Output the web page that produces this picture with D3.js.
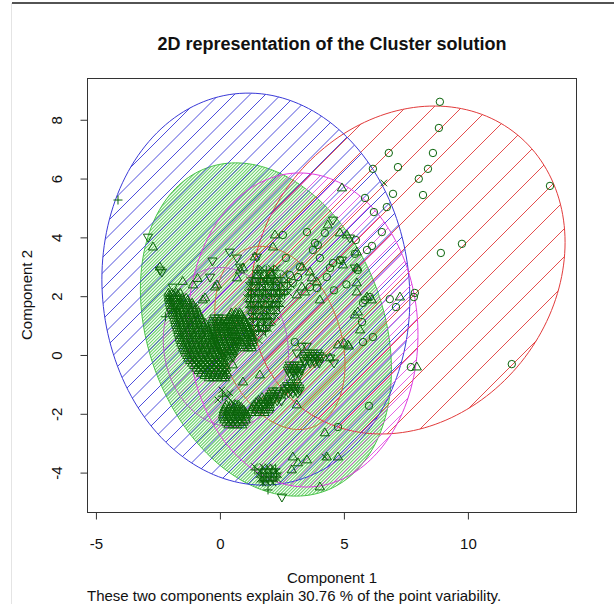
<!DOCTYPE html>
<html>
<head>
<meta charset="utf-8">
<script src="https://cdn.jsdelivr.net/npm/d3@7"></script>
<style>
  body { margin: 0; background: #fff; }
  svg { display: block; }
  text { font-family: "Liberation Sans", Arial, Helvetica, sans-serif; fill: #111; }
</style>
</head>
<body>
<svg id="chart" width="614" height="604"></svg>
<script>
// ---- texts and axes ----
const titleText = "2D representation of the Cluster solution";
const xLabel = "Component 1";
const yLabel = "Component 2";
const subText = "These two components explain 30.76 % of the point variability.";
const xTicks = [-5, 0, 5, 10];
const yTicks = [-4, -2, 0, 2, 4, 6, 8];
const xDomain = [-5.36, 14.4];
const yDomain = [-5.34, 9.42];

// ---- cluster ellipses: centre and shape matrix [s11, s12, s22] ----
const ellipseNames = ["green", "red", "blue", "magenta", "innerRed", "innerMagenta"];
const ellipseCenters = [[1.855, 0.867], [7.58, 2.89], [1.45, 2.24], [3.35, 0.85], [2.42, 0.58], [0.24, 0.27]];
const ellipseShapes = [[25.62, -6.90, 32.11], [40.18, 5.96, 31.10], [38.56, -2.07, 44.44],
                       [21.50, -0.73, 28.52], [6.89, -2.39, 9.71], [6.37, -0.60, 7.32]];

// ---- observations, by plotting symbol ----
const circlePts = [
  [8.87,8.61],[8.83,7.72],[6.81,6.87],[8.59,6.87],[7.18,6.39],[6.17,6.33],[8.39,6.33],[8.02,5.99],
  [13.31,5.75],[6.98,5.48],[8.19,5.44],[5.85,5.34],[6.73,5.03],[6.21,4.86],[6.53,4.18],[9.76,3.78],
  [8.91,3.47],[5.93,3.57],[6.13,3.71],[5.48,3.91],[5.44,3.44],[7.86,2.11],[7.82,1.97],[7.10,1.63],
  [6.85,1.90],[5.85,1.87],[6.05,1.97],[5.73,1.12],[5.77,0.44],[11.77,-0.31],[7.70,-0.41],[6.01,-1.73],
  [4.76,-2.45],[2.54,4.08],[3.51,4.18],[4.23,4.15],[3.83,3.81],[3.95,3.74],[3.75,3.57],[4.03,3.30],
  [4.56,3.13],[4.44,2.96],[3.23,2.99],[2.82,2.72],[3.15,2.65],[2.94,2.45],[3.63,2.31],[3.91,2.28],
  [4.31,2.65],[4.84,3.23],[5.56,2.89],[5.77,1.77],[6.17,0.61],[3.02,0.44],[2.66,3.30],[5.10,2.40],
  [4.60,2.20]
];
const trianglePts = [
  [4.92,5.68],[2.14,3.67],[1.41,3.33],[0.93,2.96],[1.90,2.62],[3.31,2.99],[3.63,2.82],[3.91,2.48],
  [3.71,2.62],[4.03,1.87],[4.96,3.06],[5.52,2.96],[5.52,2.14],[5.56,1.46],[5.93,1.97],[3.31,2.31],
  [3.43,2.14],[3.10,2.04],[4.35,4.42],[4.84,4.15],[5.12,4.08],[5.44,1.36],[7.26,1.97],[7.94,-0.41],
  [2.22,4.08],[0.81,2.89],[1.53,2.89],[-2.70,3.67],[-2.42,2.99],[-1.09,2.38],[-0.20,2.31],[-0.60,1.94],
  [0.69,2.62],[-0.12,2.38],[-0.69,1.87],[1.61,-0.68],[0.93,-0.92],[0.52,-0.34],[3.10,-1.70],[4.23,-2.65],
  [2.94,-3.47],[3.51,-3.57],[3.15,-3.67],[2.90,-3.91],[4.31,-3.47],[4.76,-3.47],[4.03,-4.49],[5.16,0.34],
  [4.76,0.34],[4.44,-0.10],[2.02,2.79],[5.52,3.50],[5.52,2.45],[6.13,1.87],[5.65,0.85],[-1.50,2.50],
  [-0.90,2.60],[5.00,0.40],[5.20,0.30]
];
const downTrianglePts = [
  [-2.90,4.01],[-2.42,2.89],[-2.34,2.82],[-1.90,2.31],[-0.40,2.65],[0.69,3.30],[0.81,2.99],[1.49,3.33],
  [4.56,4.59],[5.24,3.98],[4.92,3.23],[5.44,2.96],[3.10,0.07],[2.94,-0.58],[2.74,-1.12],[2.50,-4.83],
  [-0.30,3.20],[0.40,3.50]
];
const plusPts = [
  [-4.11,5.27],[-2.02,1.87],[1.41,-3.91],[1.73,-4.32],[1.94,-4.59],[-1.75,1.55],[0.10,-1.40],[-2.20,1.30]
];
const crossPts = [
  [6.61,5.85],[0.08,-1.19],[0.32,-1.43],[-0.08,-1.53],[0.40,-1.29],[0.20,-1.35],[0.50,-1.60],[-2.10,2.00],
  [-1.80,2.10],[-1.95,1.70],[-1.60,1.80],[-2.05,1.45],[4.23,-3.47],[1.40,-3.80]
];

// dense groups, written as rows: [y, [x, x, ...]]
const blobA = [
  [2.10,[-2.08,-1.92,-1.75,-1.60]],
  [2.02,[-2.05,-1.88,-1.70]],
  [1.93,[-2.06,-1.88,-1.70,-1.52,-1.36]],
  [1.85,[-2.02,-1.84,-1.66,-1.48,-1.30]],
  [1.76,[-2.02,-1.85,-1.66,-1.48,-1.30,-1.12]],
  [1.68,[-1.98,-1.80,-1.62,-1.44,-1.26,-1.08]],
  [1.59,[-1.97,-1.80,-1.62,-1.44,-1.26,-1.08,-0.95]],
  [1.51,[-1.92,-1.74,-1.56,-1.38,-1.20,-1.02]],
  [1.42,[-1.90,-1.72,-1.55,-1.37,-1.19,-1.02,-0.86]],
  [1.34,[-1.86,-1.68,-1.50,-1.32,-1.14,-0.96,-0.82]],
  [1.25,[-1.84,-1.66,-1.49,-1.31,-1.13,-0.96,-0.78]],
  [1.17,[-1.80,-1.62,-1.44,-1.26,-1.08,-0.90,-0.74]],
  [1.08,[-1.78,-1.60,-1.42,-1.25,-1.07,-0.90,-0.72,-0.60]],
  [1.00,[-1.74,-1.56,-1.38,-1.20,-1.02,-0.84,-0.66]],
  [0.91,[-1.72,-1.55,-1.37,-1.19,-1.01,-0.84,-0.66,-0.50]],
  [0.83,[-1.68,-1.50,-1.32,-1.14,-0.96,-0.78,-0.60,-0.48]],
  [0.74,[-1.67,-1.49,-1.31,-1.13,-0.96,-0.78,-0.60,-0.42]],
  [0.66,[-1.62,-1.44,-1.26,-1.08,-0.90,-0.72,-0.54,-0.38]],
  [0.57,[-1.62,-1.44,-1.26,-1.08,-0.90,-0.72,-0.55,-0.37,-0.26]],
  [0.49,[-1.57,-1.39,-1.21,-1.03,-0.85,-0.67,-0.49,-0.31]],
  [0.40,[-1.56,-1.38,-1.20,-1.02,-0.85,-0.67,-0.49,-0.31,-0.18]],
  [0.32,[-1.50,-1.32,-1.14,-0.96,-0.78,-0.60,-0.42,-0.24,-0.12]],
  [0.23,[-1.48,-1.30,-1.12,-0.95,-0.77,-0.59,-0.41,-0.23,-0.08]],
  [0.15,[-1.42,-1.24,-1.06,-0.88,-0.70,-0.52,-0.34,-0.16,-0.02]],
  [0.06,[-1.38,-1.21,-1.03,-0.85,-0.67,-0.50,-0.32,-0.14,0.02]],
  [-0.02,[-1.32,-1.14,-0.96,-0.78,-0.60,-0.42,-0.24,-0.06,0.06]],
  [-0.11,[-1.28,-1.10,-0.92,-0.74,-0.57,-0.39,-0.21,-0.03,0.10]],
  [-0.19,[-1.20,-1.02,-0.84,-0.66,-0.48,-0.30,-0.12,0.06,0.16]],
  [-0.28,[-1.12,-0.95,-0.77,-0.59,-0.41,-0.24,-0.06,0.12,0.22]],
  [-0.36,[-1.04,-0.86,-0.68,-0.50,-0.32,-0.14,0.04,0.20]],
  [-0.45,[-0.95,-0.78,-0.60,-0.42,-0.24,-0.07,0.10,0.26]],
  [-0.53,[-0.86,-0.68,-0.50,-0.32,-0.14,0.04,0.20]],
  [-0.62,[-0.76,-0.58,-0.40,-0.22,-0.05,0.12,0.28]],
  [-0.70,[-0.62,-0.44,-0.26,-0.08,0.10,0.22]],
  [-0.78,[-0.45,-0.28,-0.10,0.08,0.20]]
];
const blobB = [
  [1.26,[-0.22,-0.05,0.12]],
  [1.17,[-0.26,-0.09,0.08,0.24]],
  [1.09,[-0.30,-0.13,0.04,0.21,0.32]],
  [1.00,[-0.30,-0.12,0.06,0.24,0.36]],
  [0.92,[-0.30,-0.12,0.06,0.24,0.40]],
  [0.83,[-0.28,-0.10,0.08,0.26,0.42]],
  [0.75,[-0.26,-0.08,0.10,0.28,0.46]],
  [0.66,[-0.22,-0.04,0.14,0.32,0.50]],
  [0.58,[-0.20,-0.02,0.16,0.34,0.50,0.60]],
  [0.49,[-0.16,0.02,0.20,0.38,0.56,0.64]],
  [0.41,[-0.12,0.06,0.24,0.42,0.60,0.68]],
  [0.32,[-0.08,0.10,0.28,0.46,0.62]],
  [0.24,[-0.04,0.14,0.32,0.50,0.66]],
  [0.15,[0.02,0.20,0.38,0.56]],
  [0.07,[0.08,0.26,0.44,0.60]],
  [-0.01,[0.16,0.34,0.50]],
  [-0.07,[0.24,0.40,0.52]]
];
const blobC = [
  [1.43,[0.46,0.64,0.80]],
  [1.35,[0.42,0.60,0.78,0.88]],
  [1.26,[0.40,0.58,0.76,0.92]],
  [1.17,[0.42,0.60,0.78,0.96]],
  [1.09,[0.46,0.64,0.82,0.98,1.08]],
  [1.00,[0.50,0.68,0.86,1.04,1.12]],
  [0.92,[0.56,0.74,0.92,1.08,1.16]],
  [0.83,[0.60,0.78,0.96,1.12,1.20]],
  [0.75,[0.64,0.82,1.00,1.16,1.24]],
  [0.66,[0.70,0.88,1.06,1.22,1.28]],
  [0.58,[0.74,0.92,1.10,1.26,1.32]],
  [0.49,[0.80,0.98,1.16,1.30]],
  [0.41,[0.86,1.04,1.20,1.32]],
  [0.32,[0.92,1.10,1.26]],
  [0.24,[0.98,1.14,1.28]]
];
const blobDCross = [
  [2.96,[1.69,2.05,2.31]],
  [2.78,[1.43,1.66,2.01,2.24,2.61]],
  [2.55,[1.19,1.52,1.77,2.09,2.31,2.68]],
  [2.37,[1.15,1.45,1.71,2.04,2.33,2.55,2.88]],
  [2.12,[1.12,1.39,1.72,1.96,2.28,2.52,2.77]],
  [1.96,[1.07,1.36,1.67,1.91,2.24,2.47]],
  [1.71,[1.14,1.43,1.66,2.00,2.23,2.49]],
  [1.55,[1.18,1.44,1.75,1.99,2.32]],
  [1.31,[1.23,1.47,1.79,2.04,2.28]],
  [1.14,[1.27,1.59,1.83,2.12]],
  [0.90,[1.39,1.63,1.95]],
  [0.73,[1.43,1.75]],
  [0.49,[1.58]]
];
const blobDPlus = [
  [2.88,[1.53,1.87,2.16]],
  [2.63,[1.33,1.64,1.88,2.22,2.43]],
  [2.47,[1.31,1.58,1.93,2.16,2.50,2.72]],
  [2.23,[1.26,1.60,1.84,2.17,2.40,2.71]],
  [2.06,[1.27,1.53,1.85,2.08,2.42,2.60]],
  [1.82,[1.23,1.54,1.78,2.10,2.34]],
  [1.65,[1.30,1.55,1.87,2.11,2.40]],
  [1.41,[1.34,1.62,1.88,2.18]],
  [1.24,[1.36,1.70,1.94]],
  [1.00,[1.52,1.76,2.02]],
  [0.83,[1.56,1.84]]
];
const blobDCore = [
  [2.70,[1.50,1.80,2.10]],
  [2.50,[1.35,1.65,1.95,2.25]],
  [2.30,[1.30,1.60,1.90,2.20,2.45]],
  [2.10,[1.25,1.55,1.85,2.15,2.35]],
  [1.90,[1.22,1.50,1.80,2.10,2.30]],
  [1.70,[1.25,1.55,1.85,2.15]],
  [1.50,[1.30,1.60,1.88,2.12]],
  [1.30,[1.35,1.63,1.90]],
  [1.10,[1.42,1.70,1.95]],
  [0.90,[1.50,1.78]]
];
const blobE = [
  [-1.70,[0.26,0.44,0.62,0.74]],
  [-1.78,[0.20,0.38,0.56,0.74,0.86]],
  [-1.87,[0.16,0.34,0.52,0.70,0.88,0.96]],
  [-1.95,[0.14,0.32,0.50,0.68,0.86,1.02]],
  [-2.04,[0.12,0.30,0.48,0.66,0.84,1.02,1.08]],
  [-2.12,[0.14,0.32,0.50,0.68,0.86,1.04]],
  [-2.21,[0.18,0.36,0.54,0.72,0.90,1.04]],
  [-2.29,[0.26,0.44,0.62,0.80,0.96]],
  [-2.38,[0.34,0.52,0.70,0.90]]
];
const blobF = [
  [-1.45,[1.70,1.90]],
  [-1.54,[1.56,1.76,1.94]],
  [-1.62,[1.46,1.64,1.82,2.00]],
  [-1.70,[1.38,1.56,1.74,1.92,2.02]],
  [-1.79,[1.30,1.48,1.66,1.84,2.00]],
  [-1.87,[1.28,1.46,1.64,1.82,1.96]],
  [-1.96,[1.24,1.42,1.60,1.80]]
];
const blobG = [
  [-1.22,[2.14,2.30]],
  [-1.30,[2.08,2.26,2.42]],
  [-1.39,[2.02,2.20,2.40]],
  [-1.47,[2.00,2.18,2.36]],
  [-1.56,[1.95,2.13,2.31,2.48]]
];
const blobH = [
  [-0.95,[2.86,3.08]],
  [-1.04,[2.70,2.90,3.12]],
  [-1.12,[2.62,2.80,2.98,3.20]],
  [-1.21,[2.62,2.84,3.06,3.22]],
  [-1.29,[2.58,2.76,2.94,3.14]]
];
const blobI = [
  [-0.34,[2.82,3.00,3.20]],
  [-0.43,[2.78,2.96,3.16,3.30]],
  [-0.51,[2.74,2.92,3.10,3.28]],
  [-0.60,[2.80,2.98,3.18]],
  [-0.68,[2.84,3.04,3.20]]
];
const blobJ = [
  [0.30,[3.30,3.50]],
  [0.07,[3.55,3.75,3.95]],
  [-0.02,[3.42,3.62,3.84,4.02]],
  [-0.10,[3.35,3.55,3.75,3.95,4.10,4.45]],
  [-0.19,[3.40,3.60,3.80,3.98]],
  [-0.27,[3.43,3.63,3.83,4.00,4.60]]
];
const blobKCross = [
  [-3.81,[1.73,1.93,2.13]],
  [-3.95,[1.61,1.81,2.01,2.21,2.30]],
  [-4.08,[1.57,1.77,1.97,2.17,2.37]],
  [-4.22,[1.61,1.81,2.01,2.21,2.33]],
  [-4.35,[1.73,1.93,2.13]]
];
const blobKPlus = [
  [-3.88,[1.70,1.90,2.10,2.25]],
  [-4.02,[1.65,1.85,2.05,2.28]],
  [-4.15,[1.67,1.87,2.07,2.27]],
  [-4.28,[1.75,1.95,2.15]]
];

// ---- drawing ----
const W = 614, H = 604;
const M = { left: 87, right: 577, top: 78, bottom: 512 };
const svg = d3.select("#chart");
const defs = svg.append("defs");

const x = d3.scaleLinear().domain(xDomain).range([M.left, M.right]);
const y = d3.scaleLinear().domain(yDomain).range([M.bottom, M.top]);

// page frame lines
svg.append("line").attr("x1", 12).attr("x2", W).attr("y1", 3).attr("y2", 3)
  .attr("stroke", "#1a1a1a").attr("stroke-width", 1.6);
svg.append("line").attr("x1", 11.5).attr("x2", 11.5).attr("y1", 3).attr("y2", H)
  .attr("stroke", "#e4e4e4").attr("stroke-width", 1);

// ellipse styling: outline / hatch colour, hatch spacing (px, horizontal), phase
const ellipseStyle = {
  green:        { stroke: "#48c448", hatch: "#46c646", spacing: 3.2, width: 1.1, opacity: 0.8, phase: 1 },
  red:          { stroke: "#e23b3b", hatch: "#e23b3b", spacing: 28,  width: 1, opacity: 0.9,  phase: 9 },
  blue:         { stroke: "#3a3ad8", hatch: "#3a3ad8", spacing: 15.5, width: 1, opacity: 0.9, phase: 3 },
  magenta:      { stroke: "#e03ce0", hatch: "#e03ce0", spacing: 10,  width: 1, opacity: 0.8,  phase: 6 },
  innerRed:     { stroke: "#c8703c", hatch: "#d86a3a", spacing: 17,  width: 1, opacity: 0.7,  phase: 11 },
  innerMagenta: { stroke: "#b45cc4", hatch: "#d460d4", spacing: 12,  width: 1, opacity: 0.65, phase: 2 }
};

function ellipsePath(center, shape) {
  const [s11, s12, s22] = shape;
  const l11 = Math.sqrt(s11), l21 = s12 / l11, l22 = Math.sqrt(s22 - l21 * l21);
  const pts = d3.range(0, 360, 2).map(a => {
    const t = a * Math.PI / 180;
    return [center[0] + l11 * Math.cos(t), center[1] + l21 * Math.cos(t) + l22 * Math.sin(t)];
  });
  return d3.line().x(p => x(p[0])).y(p => y(p[1])).curve(d3.curveLinearClosed)(pts);
}

const shadeG = svg.append("g");
ellipseNames.forEach((name, i) => {
  const st = ellipseStyle[name];
  const d = ellipsePath(ellipseCenters[i], ellipseShapes[i]);
  defs.append("clipPath").attr("id", "clip-" + name).append("path").attr("d", d);
  const g = shadeG.append("g").attr("clip-path", `url(#clip-${name})`);
  // 45 degree shading lines: y = c - x
  const cs = d3.range(140 + st.phase, 1120, st.spacing);
  g.selectAll("line").data(cs).join("line")
    .attr("x1", c => c - 560).attr("y1", 560)
    .attr("x2", c => c - 40).attr("y2", 40)
    .attr("stroke", st.hatch).attr("stroke-width", st.width).attr("stroke-opacity", st.opacity);
  shadeG.append("path").attr("d", d).attr("fill", "none")
    .attr("stroke", st.stroke).attr("stroke-width", 1);
});

// ---- symbols ----
const symbolPath = {
  circle: (px, py) => { const r = 3.7; return `M${px + r},${py}A${r},${r} 0 1,1 ${px - r},${py}A${r},${r} 0 1,1 ${px + r},${py}Z`; },
  triangle: (px, py) => `M${px},${py - 5}L${px + 4.6},${py + 2.9}L${px - 4.6},${py + 2.9}Z`,
  down: (px, py) => `M${px},${py + 5}L${px + 4.6},${py - 2.9}L${px - 4.6},${py - 2.9}Z`,
  plus: (px, py) => `M${px - 4.5},${py}H${px + 4.5}M${px},${py - 4.5}V${py + 4.5}`,
  cross: (px, py) => `M${px - 3.3},${py - 3.3}L${px + 3.3},${py + 3.3}M${px - 3.3},${py + 3.3}L${px + 3.3},${py - 3.3}`
};
const rows = r => r.flatMap(([yy, xs]) => xs.map(xx => [xx, yy]));

const pointSets = [
  { kind: "triangle", pts: trianglePts.concat(rows(blobA), rows(blobC), rows(blobE), rows(blobF), rows(blobDCore)) },
  { kind: "down", pts: downTrianglePts.concat(rows(blobB), rows(blobG), rows(blobH), rows(blobI), rows(blobJ)) },
  { kind: "cross", pts: crossPts.concat(rows(blobDCross), rows(blobKCross)) },
  { kind: "plus", pts: plusPts.concat(rows(blobDPlus), rows(blobKPlus)) },
  { kind: "circle", pts: circlePts }
];

const ptG = svg.append("g").attr("fill", "none").attr("stroke", "#0a640a").attr("stroke-width", 1);
pointSets.forEach(set => {
  ptG.append("g").selectAll("path").data(set.pts).join("path")
    .attr("d", p => symbolPath[set.kind](x(p[0]), y(p[1])));
});

// ---- frame and axes ----
svg.append("rect")
  .attr("x", M.left + 0.5).attr("y", M.top + 0.5)
  .attr("width", M.right - M.left - 1).attr("height", M.bottom - M.top)
  .attr("fill", "none").attr("stroke", "#333").attr("stroke-width", 1);

const axisFont = sel => sel.style("font-size", "15px")
  .style("font-family", "'Liberation Sans', Arial, sans-serif").attr("fill", "#111");

const xAxis = svg.append("g").attr("transform", `translate(0,${M.bottom + 0.5})`)
  .call(d3.axisBottom(x).tickValues(xTicks).tickSize(7).tickFormat(d => String(d)));
xAxis.select(".domain").remove();
xAxis.selectAll(".tick line").attr("stroke", "#333");
xAxis.selectAll("text").attr("y", 36).attr("dy", null).call(axisFont);

const yAxis = svg.append("g").attr("transform", `translate(${M.left + 0.5},0)`)
  .call(d3.axisLeft(y).tickValues(yTicks).tickSize(7).tickFormat(d => String(d)));
yAxis.select(".domain").remove();
yAxis.selectAll(".tick line").attr("stroke", "#333");
yAxis.selectAll("text")
  .attr("transform", "rotate(-90)")
  .attr("x", 0).attr("y", -25.5).attr("dy", null)
  .style("text-anchor", "middle")
  .call(axisFont);

// ---- titles ----
const midX = (M.left + M.right) / 2;
svg.append("text").attr("x", midX).attr("y", 50).attr("text-anchor", "middle")
  .style("font-size", "18px").style("font-weight", "bold").text(titleText);
svg.append("text").attr("x", midX).attr("y", 583).attr("text-anchor", "middle")
  .style("font-size", "15px").text(xLabel);
svg.append("text").attr("x", M.left).attr("y", 601).attr("text-anchor", "start")
  .style("font-size", "15px").text(subText);
svg.append("text")
  .attr("transform", `translate(31.5,${(M.top + M.bottom) / 2}) rotate(-90)`)
  .attr("text-anchor", "middle").style("font-size", "15px").text(yLabel);
</script>
</body>
</html>
